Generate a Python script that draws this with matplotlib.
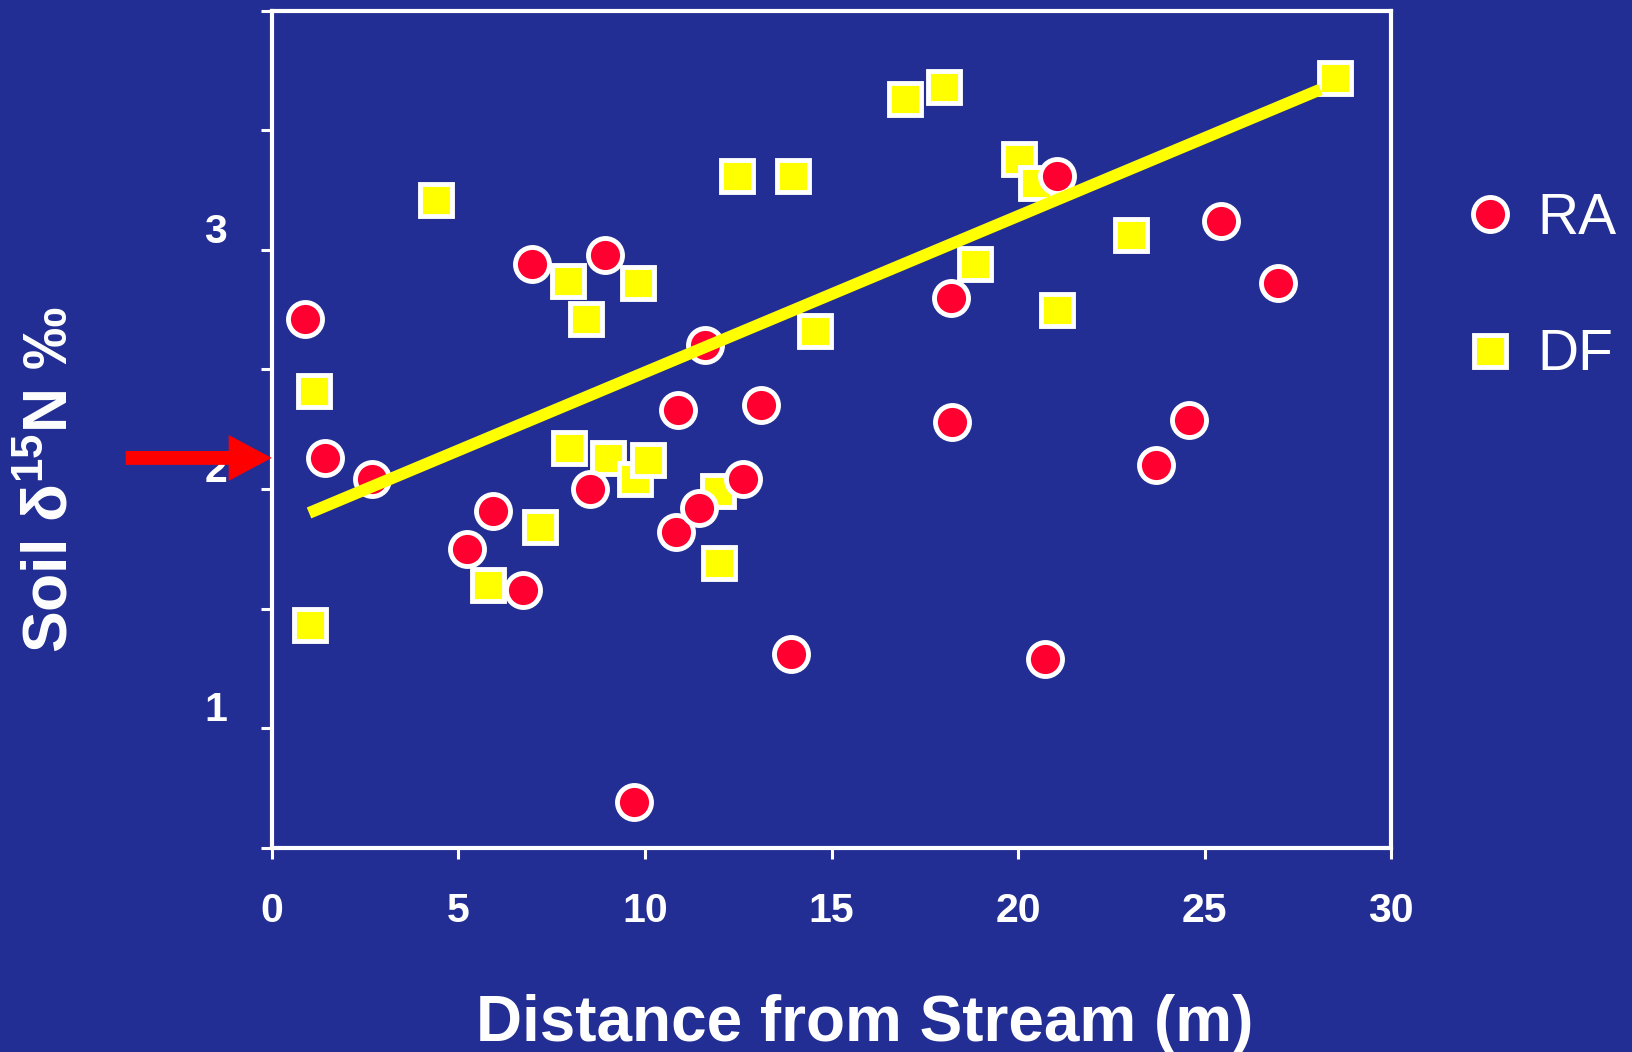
import matplotlib
matplotlib.use("Agg")
import matplotlib.pyplot as plt
from matplotlib.transforms import ScaledTranslation

plt.rcParams['font.family'] = ['Liberation Sans', 'DejaVu Sans']

# RA (red circles)
ra_x = [0.89, 1.42, 2.68, 5.24, 5.94, 6.72, 6.97, 8.53, 8.92, 9.70, 10.82, 10.90, 11.46,
        11.60, 12.63, 13.10, 13.91, 18.20, 18.23, 20.71, 21.05, 23.70, 24.59, 25.45, 26.96]
ra_y = [2.71, 2.13, 2.04, 1.75, 1.91, 1.58, 2.94, 2.00, 2.98, 0.69, 1.82, 2.33, 1.92,
        2.60, 2.04, 2.35, 1.31, 2.80, 2.28, 1.29, 3.31, 2.10, 2.29, 3.12, 2.86]

# DF (yellow squares)
df_x = [1.03, 1.12, 4.40, 5.80, 7.19, 7.95, 7.97, 8.42, 9.00, 9.73, 9.81, 10.09, 11.96,
        11.99, 12.46, 13.97, 14.55, 16.98, 18.01, 18.85, 20.02, 20.49, 21.05, 23.03, 28.49]
df_y = [1.43, 2.41, 3.21, 1.60, 1.84, 2.87, 2.17, 2.71, 2.13, 2.04, 2.86, 2.12, 1.99,
        1.69, 3.31, 3.31, 2.66, 3.63, 3.68, 2.94, 3.38, 3.28, 2.75, 3.06, 3.72]

# trend line
line_x = [1.0, 28.1]
line_y = [1.90, 3.67]

arrow_y = 2.13

bg = '#222E93'

fig = plt.figure(figsize=(16.32, 10.52), dpi=100)
fig.patch.set_facecolor(bg)
ax = fig.add_axes([0.1665, 0.194, 0.686, 0.796])
ax.set_facecolor(bg)

ax.plot(df_x, df_y, 's', ms=23.5, mfc='#FFFF00', mec='white', mew=3.5, label='DF', zorder=3)
ax.plot(ra_x, ra_y, 'o', ms=24.5, mfc='#FF0030', mec='white', mew=3.5, label='RA', zorder=4)
ax.plot(line_x, line_y, color='#FFFF00', lw=8.5, solid_capstyle='butt', zorder=5)

ax.set_xlim(0, 30)
ax.set_ylim(0.5, 4.0)
ax.set_xticks([0, 5, 10, 15, 20, 25, 30])
ax.set_yticks([1, 2, 3])
ax.set_yticks([0.5, 1.5, 2.5, 3.5, 4.0], minor=True)

for s in ax.spines.values():
    s.set_color('white')
    s.set_linewidth(3)

ax.tick_params(which='both', colors='white', direction='out', length=8, width=2.2)
ax.tick_params(axis='both', labelsize=29.5, pad=24, labelcolor='white')
for lbl in ax.get_xticklabels() + ax.get_yticklabels():
    lbl.set_fontweight('bold')
for lbl in ax.get_yticklabels():
    lbl.set_transform(lbl.get_transform() + ScaledTranslation(0, 0.22, fig.dpi_scale_trans))

ax.set_xlabel('Distance from Stream (m)', fontsize=46, fontweight='bold', color='white')
ax.xaxis.set_label_coords(0.53, -0.175)
ax.set_ylabel('Soil $\\mathregular{δ^{15}}$N ‰', fontsize=45, fontweight='bold', color='white')
ax.yaxis.set_label_coords(-0.172, 0.44)

# red arrow pointing at the y axis
ax.annotate('', xy=(0, arrow_y), xycoords='data', xytext=(-146, 0), textcoords='offset pixels',
            arrowprops=dict(arrowstyle='simple,head_length=3.1,head_width=3.3,tail_width=1.0',
                            fc='#FF0000', ec='none', mutation_scale=10, shrinkA=0, shrinkB=0),
            annotation_clip=False)

handles, labels = ax.get_legend_handles_labels()
leg = ax.legend(handles[::-1], labels[::-1], loc='upper left', bbox_to_anchor=(0.901, 0.8176),
                bbox_transform=fig.transFigure, frameon=False, fontsize=41, numpoints=1,
                handlelength=0.7, handletextpad=0.47, labelspacing=1.45, borderpad=0,
                borderaxespad=0)
for t in leg.get_texts():
    t.set_color('white')

fig.savefig('out.png', dpi=100, facecolor=bg)
